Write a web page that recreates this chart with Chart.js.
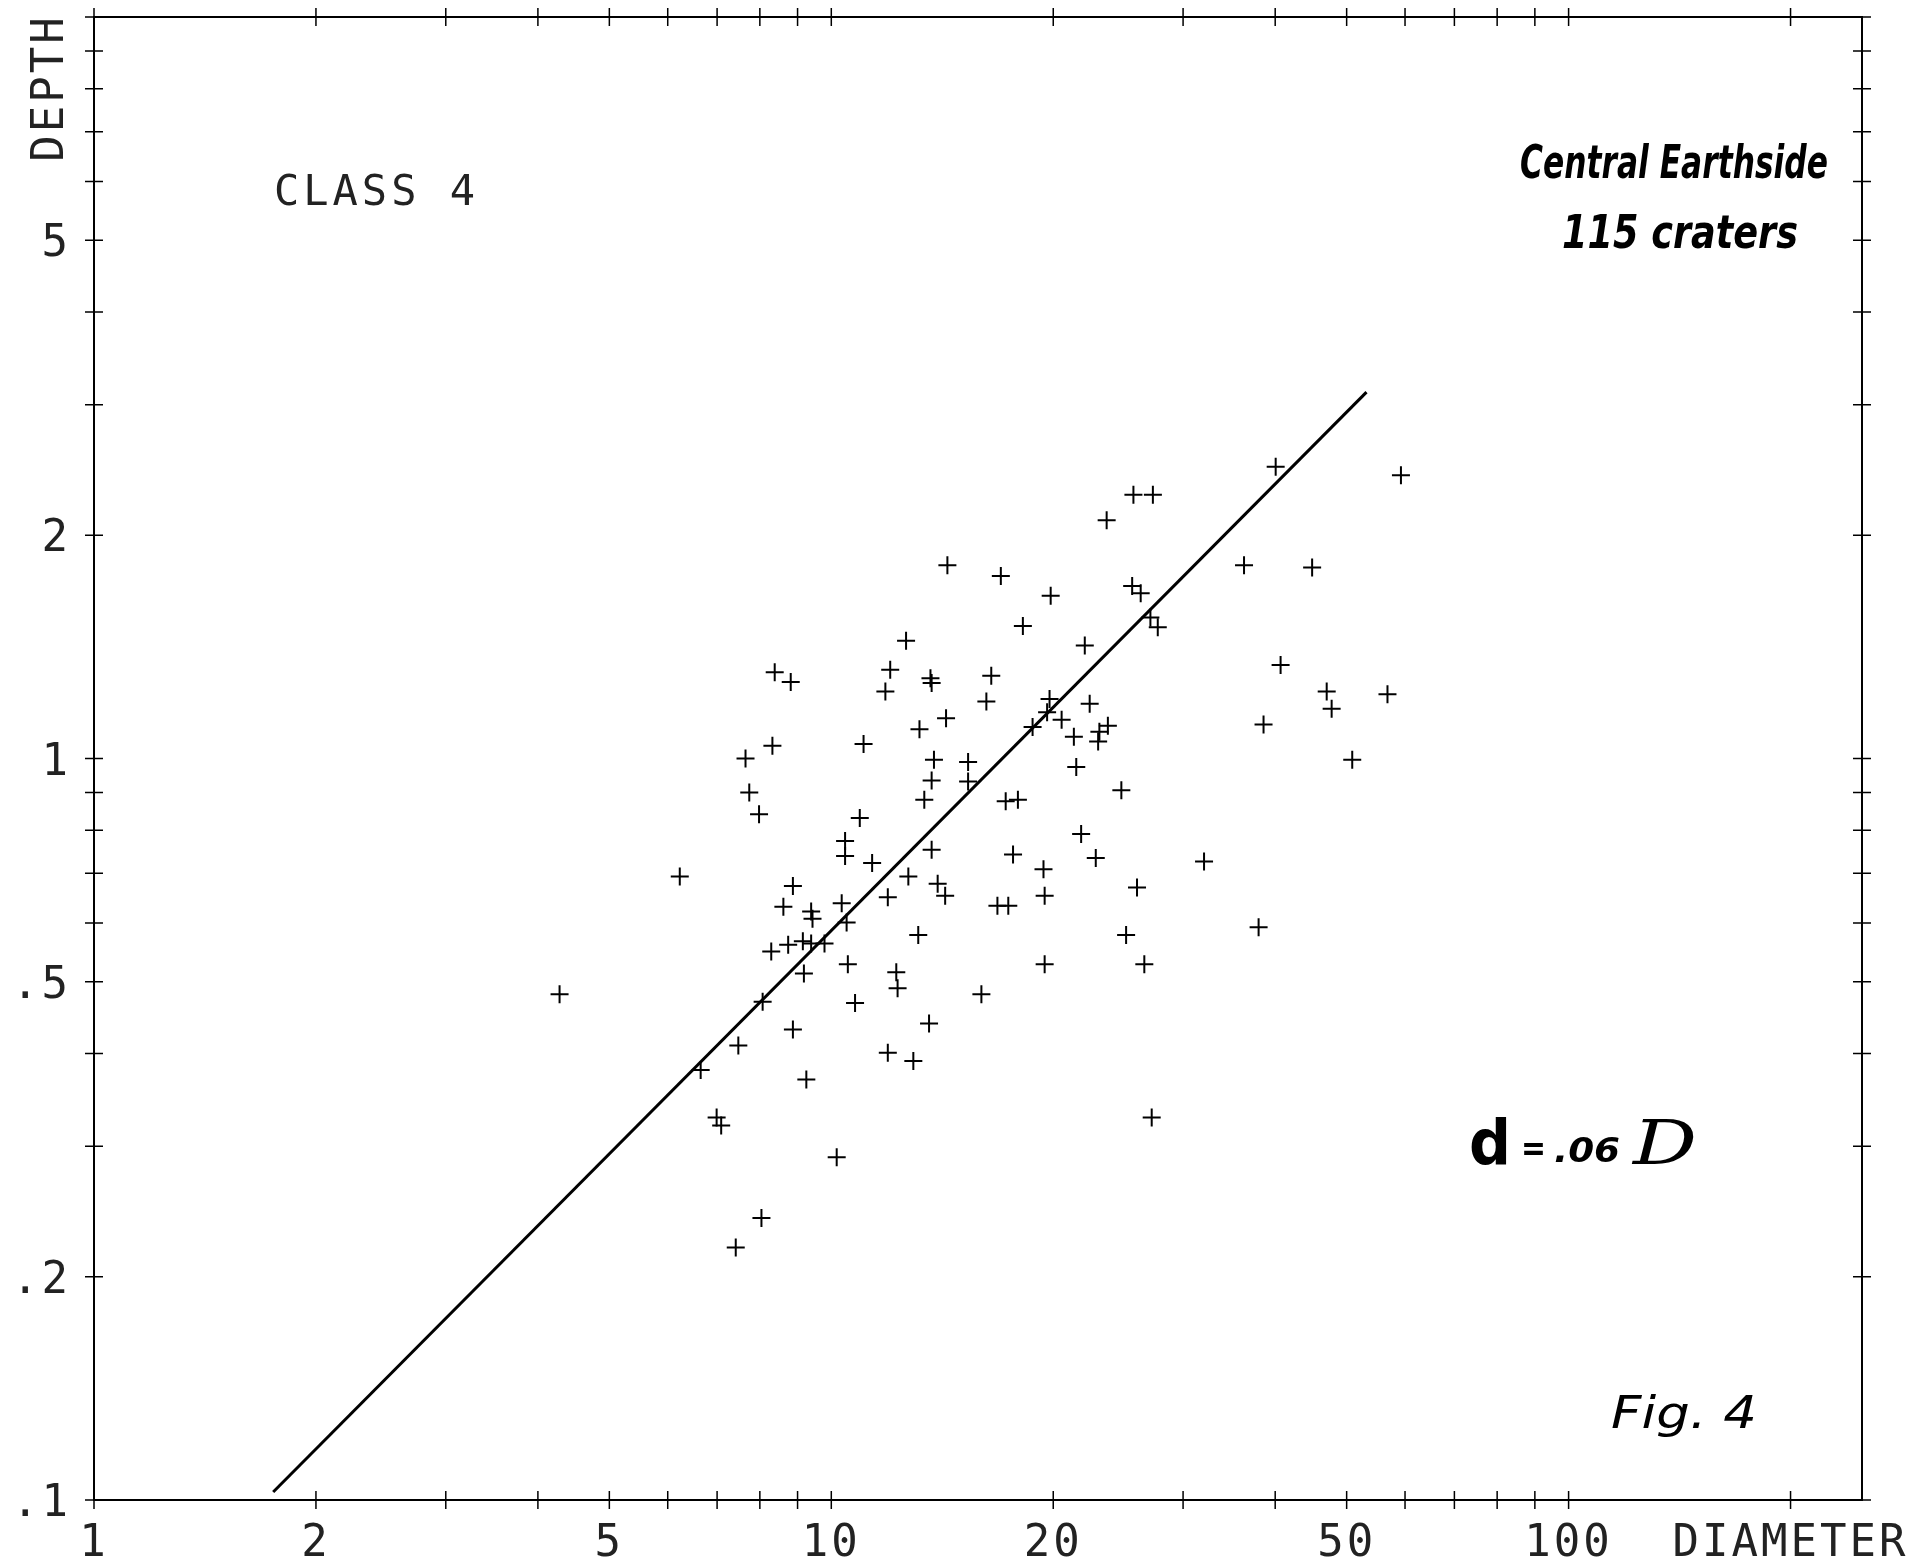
<!DOCTYPE html>
<html>
<head>
<meta charset="utf-8">
<title>Class 4 craters - depth vs diameter</title>
<script src="https://cdn.jsdelivr.net/npm/chart.js@4/dist/chart.umd.min.js"></script>
<style>
  html, body { margin: 0; padding: 0; background: #fff; }
  canvas { display: block; }
</style>
</head>
<body>
<canvas id="craterChart" width="1911" height="1560" style="width:1911px;height:1560px"></canvas>
<script>
// crater diameters (km) and depths (km)
const diameters = [
  4.28, 6.23, 6.65, 6.99, 7.09, 7.42, 8.04, 7.48, 8.07, 7.65,
  7.74, 7.98, 8.32, 8.38, 8.81, 8.29, 8.61, 8.87, 8.87, 8.74,
  9.18, 9.25, 9.39, 9.43, 9.15, 9.39, 9.79, 10.17, 10.33, 10.44,
  10.44, 10.53, 10.49, 10.77, 10.93, 11.06, 11.36, 11.84, 11.93, 12.02,
  11.93, 12.25, 12.30, 12.63, 12.72, 12.92, 13.17, 13.12, 13.37, 13.68,
  13.63, 13.68, 13.57, 13.68, 13.78, 13.94, 14.27, 14.31, 14.37, 15.98,
  16.23, 16.48, 15.33, 15.33, 16.80, 16.98, 17.24, 17.38, 17.64, 17.91,
  18.19, 18.75, 19.40, 19.47, 19.47, 19.84, 19.77, 19.62,
  20.53, 21.33, 21.49, 21.82, 22.07, 22.41, 22.84, 23.01, 23.10, 23.72,
  23.63, 24.74, 25.11, 25.69, 25.59, 26.28, 25.98, 26.58, 27.30, 27.09,
  27.72, 27.20, 32.03, 36.29, 37.98, 38.57, 40.06, 40.68, 44.89, 46.98,
  47.71, 50.88, 56.80, 59.24
];
const depths = [
  0.481, 0.693, 0.380, 0.328, 0.320, 0.219, 0.240, 0.410, 0.470, 1.00,
  0.900, 0.841, 1.04, 1.307, 1.268, 0.549, 0.631, 0.673, 0.431, 0.561,
  0.513, 0.369, 0.622, 0.608, 0.567, 0.563, 0.563, 0.290, 0.638, 0.774,
  0.739, 0.528, 0.601, 0.468, 0.831, 1.046, 0.723, 1.231, 0.650, 1.317,
  0.401, 0.515, 0.490, 1.442, 0.693, 0.391, 1.095, 0.578, 0.880, 0.934,
  1.283, 1.264, 0.439, 0.753, 0.996, 0.678, 0.653, 1.133, 1.823, 0.481,
  1.194, 1.293, 0.989, 0.931, 0.633, 1.762, 0.876, 0.633, 0.742, 0.880,
  1.509, 1.103, 0.709, 0.653, 0.528, 1.658, 1.203, 1.154,
  1.128, 1.070, 0.974, 0.791, 1.420, 1.185, 0.734, 1.054, 1.087, 1.107,
  2.096, 0.906, 0.578, 2.269, 1.709, 1.671, 0.670, 0.528, 2.269, 1.549,
  1.503, 0.328, 0.726, 1.823, 0.592, 1.111, 2.474, 1.337, 1.809, 1.231,
  1.167, 0.996, 1.221, 2.41
];

// fitted line d = .06 D, its two drawn ends
const fitDiameters = [1.75, 53.2];
const fitDepths = [0.1025, 3.12];

// axis ticks and labels
const xTicks = [1, 2, 3, 4, 5, 6, 7, 8, 9, 10, 20, 30, 40, 50, 60, 70, 80, 90, 100, 200];
const yTicks = [0.1, 0.2, 0.3, 0.4, 0.5, 0.6, 0.7, 0.8, 0.9, 1, 2, 3, 4, 5, 6, 7, 8, 9, 10];
const xLabelValues = [1, 2, 5, 10, 20, 50, 100, 200];
const xLabels = ["1", "2", "5", "10", "20", "50", "100", "DIAMETER"];
const yLabelValues = [5, 2, 1, 0.5, 0.2, 0.1];
const yLabels = ["5", "2", "1", ".5", ".2", ".1"];

const plotterFont = '44px "DejaVu Sans Mono"';

const fitText = (ctx, text, x, base, width, font) => {
  ctx.font = font;
  const w = ctx.measureText(text).width;
  ctx.save();
  ctx.translate(x, base);
  ctx.scale(width / w, 1);
  ctx.fillText(text, 0, 0);
  ctx.restore();
};

const plotterFrame = {
  id: "plotterFrame",
  beforeDatasetsDraw(chart) {
    const { ctx, chartArea: a, scales } = chart;
    const x = scales.x;
    const y = scales.y;
    ctx.save();
    ctx.strokeStyle = "#000";
    ctx.lineWidth = 2;
    ctx.strokeRect(a.left, a.top, a.right - a.left, a.bottom - a.top);

    // tick marks cross every side of the frame
    ctx.lineWidth = 1.5;
    ctx.beginPath();
    xTicks.forEach((v) => {
      const px = x.getPixelForValue(v);
      [a.top, a.bottom].forEach((py) => {
        ctx.moveTo(px, py - 9);
        ctx.lineTo(px, py + 9);
      });
    });
    yTicks.forEach((v) => {
      const py = y.getPixelForValue(v);
      [a.left, a.right].forEach((px) => {
        ctx.moveTo(px - 9, py);
        ctx.lineTo(px + 9, py);
      });
    });
    ctx.stroke();

    ctx.fillStyle = "#222";
    ctx.font = plotterFont;
    ctx.letterSpacing = "3px";
    ctx.textBaseline = "alphabetic";

    ctx.textAlign = "center";
    xLabelValues.forEach((v, i) => {
      ctx.fillText(xLabels[i], x.getPixelForValue(v), a.bottom + 56);
    });

    ctx.textAlign = "right";
    yLabelValues.forEach((v, i) => {
      ctx.fillText(yLabels[i], a.left - 23, y.getPixelForValue(v) + 16);
    });

    ctx.save();
    ctx.translate(63, 88);
    ctx.rotate(-Math.PI / 2);
    ctx.textAlign = "center";
    ctx.fillText("DEPTH", 0, 0);
    ctx.restore();

    ctx.textAlign = "left";
    ctx.font = '42px "DejaVu Sans Mono"';
    ctx.letterSpacing = "4px";
    ctx.fillText("CLASS 4", 274, 205);
    ctx.restore();
  },
  afterDraw(chart) {
    const { ctx } = chart;
    ctx.save();
    ctx.fillStyle = "#000";
    ctx.textAlign = "left";
    ctx.textBaseline = "alphabetic";
    ctx.letterSpacing = "0px";
    fitText(ctx, "Central Earthside", 1520, 178, 308, 'bold italic 46px "DejaVu Sans"');
    fitText(ctx, "115 craters", 1562, 248, 236, 'bold italic 46px "DejaVu Sans"');
    fitText(ctx, "d", 1469, 1164, 42, 'bold 62px "DejaVu Sans"');
    fitText(ctx, "=", 1521, 1160, 25, 'bold 36px "DejaVu Sans"');
    fitText(ctx, ".06", 1554, 1162, 66, 'bold italic 34px "DejaVu Sans"');
    fitText(ctx, "D", 1633, 1164, 64, 'italic 62px "DejaVu Serif"');
    fitText(ctx, "Fig. 4", 1611, 1428, 146, 'italic 44px "DejaVu Sans"');
    ctx.restore();
  },
};

new Chart(document.getElementById("craterChart"), {
  type: "scatter",
  data: {
    datasets: [
      {
        label: "Class 4 craters",
        data: diameters.map((d, i) => ({ x: d, y: depths[i] })),
        pointStyle: "cross",
        pointRadius: 9,
        pointBorderWidth: 2,
        borderColor: "#000",
        backgroundColor: "#000",
      },
      {
        label: "d = .06 D",
        data: fitDiameters.map((d, i) => ({ x: d, y: fitDepths[i] })),
        showLine: true,
        pointRadius: 0,
        borderColor: "#000",
        borderWidth: 3,
      },
    ],
  },
  options: {
    responsive: false,
    animation: false,
    devicePixelRatio: 1,
    layout: {
      padding: { left: 94, top: 17, right: 49, bottom: 60 },
    },
    scales: {
      x: { type: "logarithmic", min: 1, max: 250, display: false },
      y: { type: "logarithmic", min: 0.1, max: 10, display: false },
    },
    plugins: {
      legend: { display: false },
      tooltip: { enabled: false },
    },
  },
  plugins: [plotterFrame],
});
</script>
</body>
</html>
